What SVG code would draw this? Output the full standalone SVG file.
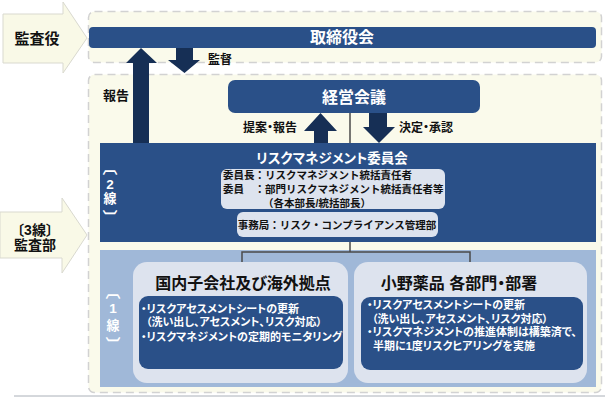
<svg xmlns="http://www.w3.org/2000/svg" width="605" height="397" viewBox="0 0 605 397">
<style>
.t{font-family:"Liberation Sans","Noto Sans CJK JP",sans-serif;font-weight:bold;font-feature-settings:"palt";dominant-baseline:central}
.np{font-feature-settings:normal}
.w{fill:#ffffff}
.k{fill:#111111}
.c{text-anchor:middle}
.zone{fill:#fafaeb;stroke:#d2d2d2;stroke-width:1.5;stroke-dasharray:8 5}
.navy{fill:#2a5088}
.lite{fill:#dde3ee}
.side{fill:#f9f9e7;stroke:#d9d9cf;stroke-width:1}
.arr{fill:#162f55}
.ln{fill:none;stroke:#4a4a4a;stroke-width:1.5}
</style>
<rect x="0" y="0" width="605" height="397" fill="#ffffff"/>
<g id="zones">
<rect class="zone" x="88.5" y="11.5" width="513" height="51" rx="6"/>
<rect class="zone" x="88.5" y="74.5" width="513" height="318" rx="6"/>
<line x1="14" y1="396" x2="605" y2="396" stroke="#aab0b8" stroke-width="1"/>
</g>
<g id="kansayaku">
<polygon class="side" points="3,14 63,14 63,2 87,38 63,73 63,63 3,63"/>
<text class="t k c" x="37" y="38" font-size="15">監査役</text>
</g>
<g id="torishimariyakukai">
<rect class="navy" x="89" y="27" width="507" height="21" rx="4"/>
<text class="t w c" x="342" y="37.5" font-size="16">取締役会</text>
</g>
<g id="keiei-kaigi">
<rect class="navy" x="228" y="80" width="252" height="33" rx="7"/>
<text class="t w c" x="354" y="97" font-size="16">経営会議</text>
</g>
<g id="risk-committee">
<rect class="navy" x="100" y="143" width="496" height="99"/>
<text class="t w c" x="110" y="167" font-size="15">︹</text>
<text class="t w c" x="110" y="184" font-size="13.5">2</text>
<text class="t w c" x="110" y="198" font-size="13">線</text>
<text class="t w c" x="110" y="217" font-size="15">︺</text>
<text class="t w c" x="332" y="158" font-size="13.5">リスクマネジメント委員会</text>
<rect class="lite" x="221" y="169" width="224" height="40" rx="6"/>
<text class="t k np" x="223" y="175" font-size="10.5">委員長：リスクマネジメント統括責任者</text>
<text class="t k np" x="223" y="189" font-size="10.5">委員　：部門リスクマネジメント統括責任者等</text>
<text class="t k np" x="263" y="203" font-size="10.5">（各本部長/統括部長）</text>
<rect class="lite" x="237" y="212" width="201" height="25" rx="6"/>
<text class="t k c np" x="337" y="225" font-size="10.5">事務局：リスク・コンプライアンス管理部</text>
</g>
<g id="audit-dept">
<polygon class="side" points="0,212 62,212 62,198 87,235 62,273 62,258 0,258"/>
<text class="t k c" x="35" y="230" font-size="14">〔3線〕</text>
<text class="t k c" x="35" y="245" font-size="14">監査部</text>
</g>
<g id="first-line">
<rect x="100" y="250" width="496" height="137" fill="#a0b8d8"/>
<text class="t w c" x="113" y="291" font-size="15">︹</text>
<text class="t w c" x="113" y="308" font-size="13.5">1</text>
<text class="t w c" x="113" y="325" font-size="13">線</text>
<text class="t w c" x="113" y="344" font-size="15">︺</text>
</g>
<g id="connectors">
<polygon class="arr" points="133,143 133,63 126,63 141,48 157,63 149,63 149,143"/>
<polygon class="arr" points="176,48 193,48 193,60 200,60 184.5,73 168,60 176,60"/>
<polygon class="arr" points="314,143 314,131 304,131 320.5,113 337,131 328,131 328,143"/>
<polygon class="arr" points="369,113 387,113 387,127 395,127 379,143 363,127 369,127"/>
<line class="ln" x1="350" y1="113" x2="350" y2="143"/>
<path class="ln" d="M350,242 V252 M242,263 V252 H470 V263"/>
<text class="t k" x="103" y="95" font-size="13">報告</text>
<text class="t k" x="208" y="60" font-size="12">監督</text>
<text class="t k" x="243" y="128" font-size="12">提案・報告</text>
<text class="t k" x="399" y="128" font-size="12">決定・承認</text>
</g>
<g id="domestic">
<rect class="lite" x="133" y="262" width="215" height="121" rx="14"/>
<text class="t k c" x="243" y="283" font-size="16">国内子会社及び海外拠点</text>
<rect class="navy" x="139" y="296" width="204" height="73" rx="9"/>
<text class="t w" x="141" y="309" font-size="11">・リスクアセスメントシートの更新</text>
<text class="t w" x="146" y="322" font-size="11">（洗い出し、アセスメント、リスク対応）</text>
<text class="t w" x="141" y="337" font-size="11">・リスクマネジメントの定期的モニタリング</text>
</g>
<g id="ono">
<rect class="lite" x="354" y="262" width="233" height="121" rx="14"/>
<text class="t k c" x="459" y="283" font-size="16">小野薬品 各部門・部署</text>
<rect class="navy" x="361" y="297" width="222" height="73" rx="9"/>
<text class="t w" x="367" y="305" font-size="11">・リスクアセスメントシートの更新</text>
<text class="t w" x="372" y="319" font-size="11">（洗い出し、アセスメント、リスク対応）</text>
<text class="t w" x="367" y="332" font-size="11">・リスクマネジメントの推進体制は構築済で、</text>
<text class="t w" x="373" y="346" font-size="11">半期に1度リスクヒアリングを実施</text>
</g>
</svg>
